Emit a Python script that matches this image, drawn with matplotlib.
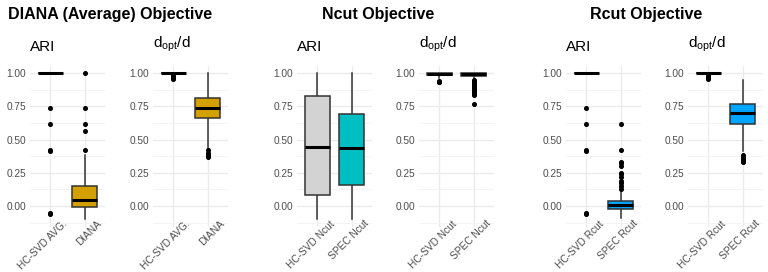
import matplotlib
matplotlib.use("Agg")
import matplotlib.pyplot as plt
from matplotlib.transforms import ScaledTranslation

plt.rcParams['font.family'] = ['Liberation Sans', 'DejaVu Sans']
plt.rcParams['mathtext.fontset'] = 'custom'
plt.rcParams['mathtext.rm'] = 'Liberation Sans'
plt.rcParams['mathtext.it'] = 'Liberation Sans'

# group titles
groups = ['DIANA (Average) Objective', 'Ncut Objective', 'Rcut Objective']
metrics = ['ARI', r'$\mathregular{d_{opt}/d}$']

# box labels per group
labels_diana = ['HC-SVD AVG.', 'DIANA']
labels_ncut = ['HC-SVD Ncut', 'SPEC Ncut']
labels_rcut = ['HC-SVD Rcut', 'SPEC Rcut']

fill_diana = ['#D4A000', '#D4A000']
fill_ncut = ['#D3D3D3', '#00BFC4']
fill_rcut = ['#00A5FF', '#00A5FF']

# box statistics: (whislo, q1, med, q3, whishi, fliers)
diana_ari = [
    (1.0, 1.0, 1.0, 1.0, 1.0, [0.74, 0.62, 0.42, 0.41, -0.05, -0.06]),
    (-0.095, -0.008, 0.043, 0.15, 0.38, [0.42, 0.565, 0.62, 0.74, 1.0]),
]
diana_dopt = [
    (1.0, 1.0, 1.0, 1.0, 1.0, [0.99, 0.98, 0.97, 0.962, 0.956]),
    (0.43, 0.66, 0.74, 0.81, 1.0, [0.42, 0.40, 0.385, 0.37]),
]
ncut_ari = [
    (-0.1, 0.085, 0.44, 0.83, 1.0, []),
    (-0.1, 0.155, 0.435, 0.69, 1.0, []),
]
ncut_dopt = [
    (0.965, 0.983, 0.99, 0.997, 1.0, [0.94, 0.935, 0.93]),
    (0.955, 0.98, 0.99, 0.997, 1.0, [0.95, 0.94, 0.93, 0.92, 0.91, 0.90, 0.89,
                                     0.88, 0.87, 0.86, 0.85, 0.84, 0.835, 0.77]),
]
rcut_ari = [
    (1.0, 1.0, 1.0, 1.0, 1.0, [0.74, 0.62, 0.42, 0.41, -0.05, -0.06]),
    (-0.09, -0.022, 0.005, 0.035, 0.11, [0.13, 0.15, 0.17, 0.19, 0.22, 0.24,
                                          0.25, 0.30, 0.32, 0.33, 0.42, 0.62]),
]
rcut_dopt = [
    (1.0, 1.0, 1.0, 1.0, 1.0, [0.99, 0.98, 0.97, 0.962, 0.956]),
    (0.41, 0.62, 0.70, 0.77, 0.945, [0.38, 0.37, 0.355, 0.34, 0.33]),
]

panels = [
    (diana_ari, labels_diana, fill_diana),
    (diana_dopt, labels_diana, fill_diana),
    (ncut_ari, labels_ncut, fill_ncut),
    (ncut_dopt, labels_ncut, fill_ncut),
    (rcut_ari, labels_rcut, fill_rcut),
    (rcut_dopt, labels_rcut, fill_rcut),
]

W, H = 768, 272
fig = plt.figure(figsize=(W / 100, H / 100), dpi=100)

lefts = [30, 153, 297, 419, 566, 688]
pw = 75
top_px, bot_px = 65.7, 226.6
shift = ScaledTranslation(12 / 100, 8 / 100, fig.dpi_scale_trans)

for i, (stats, labels, fills) in enumerate(panels):
    ax = fig.add_axes([lefts[i] / W, 1 - bot_px / H, pw / W, (bot_px - top_px) / H])
    bx = []
    for lo, q1, med, q3, hi, fl in stats:
        bx.append(dict(whislo=lo, q1=q1, med=med, q3=q3, whishi=hi, fliers=fl))
    art = ax.bxp(bx, positions=[1, 2], widths=0.75, patch_artist=True,
                 showcaps=False,
                 boxprops=dict(edgecolor='#333333', linewidth=1.1),
                 whiskerprops=dict(color='#333333', linewidth=1.1),
                 medianprops=dict(color='black', linewidth=2.2),
                 flierprops=dict(marker='o', markerfacecolor='black',
                                 markeredgecolor='black', markersize=2.6))
    for p, c in zip(art['boxes'], fills):
        p.set_facecolor(c)
        p.set_zorder(3)
    for m in art['medians']:
        m.set_zorder(4)
        m.set_solid_capstyle('butt')
    ax.set_xlim(0.4, 2.6)
    ax.set_ylim(-0.155, 1.055)
    ax.set_yticks([0, 0.25, 0.5, 0.75, 1.0])
    ax.set_yticklabels(['0.00', '0.25', '0.50', '0.75', '1.00'])
    ax.set_yticks([-0.125, 0.125, 0.375, 0.625, 0.875], minor=True)
    ax.set_xticks([1, 2])
    ax.set_xticklabels([])
    # rotated category labels, placed like ggplot's angle=45, hjust=1
    for pos, lab in zip([1, 2], labels):
        ax.text(pos, 0, lab, transform=ax.get_xaxis_transform() + shift,
                rotation=45, ha='right', va='top', rotation_mode='anchor',
                fontsize=7.3, color='#4D4D4D')
    ax.grid(True, which='major', color='#EBEBEB', linewidth=1.0, zorder=0)
    ax.grid(True, which='minor', axis='y', color='#F3F3F3', linewidth=0.6, zorder=0)
    ax.set_axisbelow(True)
    for s in ax.spines.values():
        s.set_visible(False)
    ax.tick_params(which='both', length=0, colors='#4D4D4D')
    ax.tick_params(axis='y', labelsize=7.3, pad=3)
    ax.text(0, 1.07, metrics[i % 2], transform=ax.transAxes, fontsize=11,
            ha='left', va='bottom', color='black')

fig.text(8 / W, 1 - 19 / H, groups[0], fontsize=11.5, fontweight='bold', ha='left', va='baseline')
fig.text(378 / W, 1 - 19 / H, groups[1], fontsize=11.5, fontweight='bold', ha='center', va='baseline')
fig.text(646 / W, 1 - 19 / H, groups[2], fontsize=11.5, fontweight='bold', ha='center', va='baseline')

fig.savefig('out.png', dpi=100, facecolor='white')
